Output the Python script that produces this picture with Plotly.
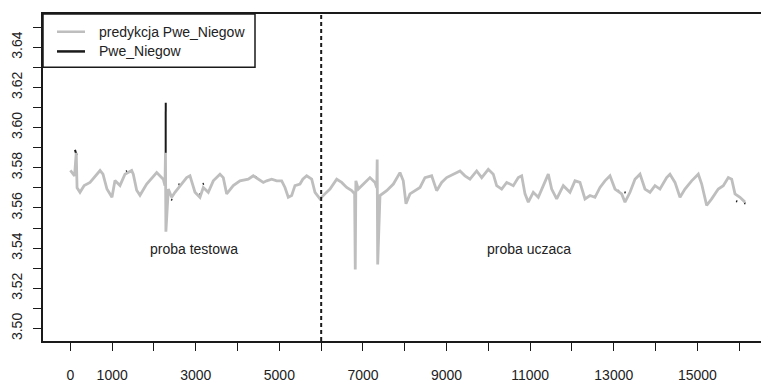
import plotly.graph_objects as go

# ---- data ----
x_pred = [0, 100, 140, 160, 230, 330, 470, 710, 780, 875, 995, 1067, 1187, 1306, 1466, 1505,
          1586, 1665, 1825, 2065, 2222, 2263, 2275, 2285, 2343, 2423, 2502, 2622, 2782, 2861,
          2981, 3100, 3180, 3299, 3419, 3579, 3658, 3739, 3897, 4057, 4256, 4376, 4495, 4615,
          4696, 4816, 4935, 5055, 5134, 5213, 5294, 5373, 5493, 5560, 5653, 5773, 5852, 5971,
          6091, 6211, 6371, 6490, 6610, 6730, 6800, 6815, 6830, 6888, 7048, 7167, 7287, 7330,
          7340, 7352, 7407, 7567, 7727, 7885, 7964, 8029, 8124, 8244, 8364, 8483, 8643, 8763,
          8882, 9002, 9160, 9321, 9440, 9560, 9720, 9840, 9998, 10117, 10198, 10318, 10438,
          10596, 10716, 10797, 10876, 10955, 11074, 11194, 11314, 11433, 11514, 11634, 11792,
          11952, 12072, 12191, 12311, 12431, 12550, 12670, 12789, 12909, 13029, 13189, 13268,
          13388, 13507, 13627, 13746, 13866, 13986, 14105, 14265, 14344, 14464, 14584, 14703,
          14863, 15022, 15103, 15222, 15342, 15500, 15620, 15740, 15821, 15900, 16019, 16139]
y_pred = [3.5787, 3.5760, 3.5874, 3.5700, 3.5678, 3.5712, 3.5727, 3.5786, 3.5768, 3.5694,
          3.5653, 3.5737, 3.5712, 3.5768, 3.5786, 3.5768, 3.5688, 3.5663, 3.5719, 3.5776,
          3.5743, 3.5711, 3.5874, 3.5482, 3.5694, 3.5653, 3.5678, 3.5711, 3.5751, 3.5760,
          3.5678, 3.5653, 3.5702, 3.5678, 3.5735, 3.5768, 3.5751, 3.5670, 3.5711, 3.5735,
          3.5743, 3.5760, 3.5743, 3.5727, 3.5735, 3.5743, 3.5735, 3.5735, 3.5702, 3.5653,
          3.5662, 3.5711, 3.5719, 3.5743, 3.5760, 3.5743, 3.5678, 3.5645, 3.5670, 3.5694,
          3.5743, 3.5727, 3.5702, 3.5686, 3.5670, 3.5294, 3.5735, 3.5694, 3.5727, 3.5751,
          3.5727, 3.5700, 3.5841, 3.5319, 3.5662, 3.5686, 3.5719, 3.5776, 3.5735, 3.5621,
          3.5670, 3.5686, 3.5702, 3.5751, 3.5760, 3.5686, 3.5727, 3.5751, 3.5768, 3.5784,
          3.5760, 3.5743, 3.5784, 3.5751, 3.5792, 3.5768, 3.5711, 3.5694, 3.5727, 3.5711,
          3.5751, 3.5760, 3.5670, 3.5629, 3.5678, 3.5653, 3.5711, 3.5768, 3.5694, 3.5645,
          3.5711, 3.5678, 3.5735, 3.5727, 3.5645, 3.5662, 3.5653, 3.5702, 3.5735, 3.5760,
          3.5694, 3.5670, 3.5629, 3.5678, 3.5743, 3.5768, 3.5694, 3.5678, 3.5711, 3.5694,
          3.5751, 3.5768, 3.5727, 3.5653, 3.5694, 3.5735, 3.5768, 3.5719, 3.5613, 3.5645,
          3.5694, 3.5711, 3.5751, 3.5743, 3.5670, 3.5653, 3.5629]

# actual series: only the parts that show from under the prediction line
x_act = [110, 150, None, 2280, 2281, None, 1330, 1360, None, 1450, 1480, None,
         2410, 2440, None, 2585, 2615, None, 3085, 3115, None, 3165, 3195, None,
         4420, 4450, None, 8015, 8045, None, 13095, 13125, None, 13255, 13285, None,
         15925, 15955, None, 16120, 16150]
y_act = [3.5889, 3.5862, None, 3.5874, 3.6124, None, 3.5781, 3.5783, None, 3.5786, 3.5784, None,
         3.5642, 3.5640, None, 3.5716, 3.5718, None, 3.5670, 3.5668, None, 3.5719, 3.5721, None,
         3.5755, 3.5753, None, 3.5645, 3.5643, None, 3.5686, 3.5684, None, 3.5678, 3.5676, None,
         3.5634, 3.5632, None, 3.5624, 3.5622]

split_x = 6000
x_tick_vals = list(range(0, 17000, 1000))
x_tick_text = ["0", "1000", "", "3000", "", "5000", "", "7000", "", "9000", "",
               "11000", "", "13000", "", "15000", ""]
y_tick_vals = [3.50, 3.52, 3.54, 3.56, 3.58, 3.60, 3.62, 3.64]
region_labels = ["proba testowa", "proba uczaca"]
region_label_x = [2950, 10980]
region_label_y = 3.5394
legend_names = ["predykcja Pwe_Niegow", "Pwe_Niegow"]

GRAY = "#bebebe"
INK = "#1a1a1a"
FONT = "Liberation Sans, Arial, sans-serif"

fig = go.Figure()
fig.add_trace(go.Scatter(x=x_act, y=y_act, mode="lines", name=legend_names[1],
                         line=dict(color=INK, width=2), showlegend=False,
                         connectgaps=False, hoverinfo="skip"))
fig.add_trace(go.Scatter(x=x_pred, y=y_pred, mode="lines", name=legend_names[0],
                         line=dict(color=GRAY, width=2.8), showlegend=False))

# dashed split line
fig.add_shape(type="line", xref="x", yref="paper", x0=split_x, x1=split_x, y0=0, y1=1,
              line=dict(color=INK, width=2, dash="4px,3px"))

for t, xx in zip(region_labels, region_label_x):
    fig.add_annotation(x=xx, y=region_label_y, xref="x", yref="y", text=t,
                       showarrow=False, font=dict(size=14, color="#222", family=FONT))

# legend box (R style)
W, H = 718.0, 332.0
def px(v):
    return v / W
def py(v):
    return 1 - v / H
fig.add_shape(type="rect", xref="paper", yref="paper", x0=0, x1=px(212), y0=py(54), y1=1,
              line=dict(color=INK, width=1.5), fillcolor="white", layer="above")
for i, (nm, col) in enumerate(zip(legend_names, [GRAY, INK])):
    yy = py(18 + 20 * i)
    fig.add_shape(type="line", xref="paper", yref="paper", x0=px(14), x1=px(42), y0=yy, y1=yy,
                  line=dict(color=col, width=2.5), layer="above")
    fig.add_annotation(xref="paper", yref="paper", x=px(54), y=yy, text=nm, showarrow=False,
                       xanchor="left", yanchor="middle",
                       font=dict(size=14, color="#222", family=FONT))

fig.update_layout(
    width=761, height=383,
    margin=dict(l=43, r=0, t=14, b=37),
    paper_bgcolor="white", plot_bgcolor="white",
    font=dict(family=FONT, color="#222"),
    showlegend=False,
    xaxis=dict(range=[-655, 16522], showgrid=False, zeroline=False,
               showline=True, linecolor=INK, linewidth=1.5, mirror=True,
               ticks="outside", ticklen=8, tickwidth=1.2, tickcolor=INK,
               tickvals=x_tick_vals, ticktext=x_tick_text,
               tickfont=dict(size=14, family=FONT, color="#222"),
               ticklabelstandoff=12),
    yaxis=dict(range=[3.4938, 3.6565], showgrid=False, zeroline=False,
               showline=True, linecolor=INK, linewidth=1.5,
               ticks="outside", ticklen=8, tickwidth=1.2, tickcolor=INK,
               tickvals=y_tick_vals, tickformat=".2f", tickangle=-90,
               tickfont=dict(size=14, family=FONT, color="#222"),
               ticklabelstandoff=6,
               minor=dict(dtick=0.01, tick0=3.5, ticks="outside", ticklen=8,
                          tickwidth=1.2, tickcolor=INK, showgrid=False)),
)

fig.write_html("out.html")
